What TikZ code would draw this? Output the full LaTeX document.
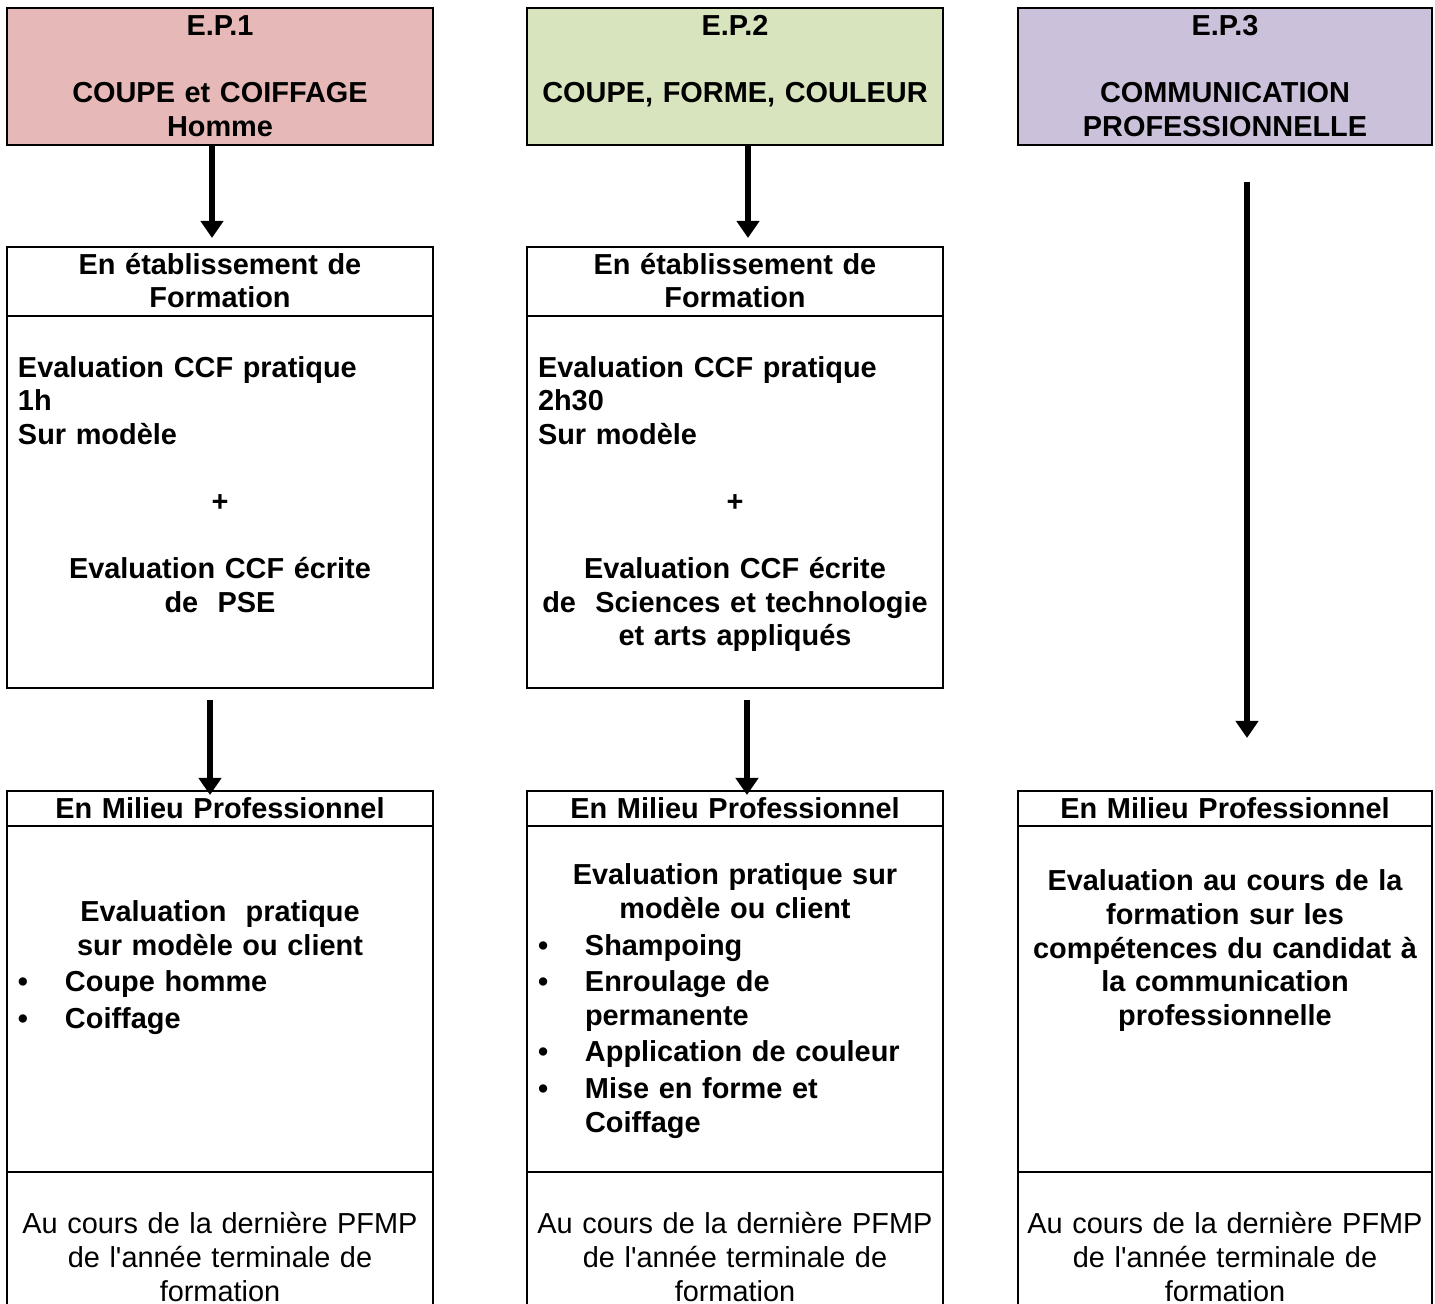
\documentclass[tikz,border=0pt]{standalone}
\usepackage{fontspec}
\setmainfont{Liberation Sans}
\usetikzlibrary{positioning,arrows.meta}

\definecolor{rougeEP}{HTML}{E6B9B8}
\definecolor{vertEP}{HTML}{D7E4BD}
\definecolor{violetEP}{HTML}{CCC1DA}

\newcommand{\ligne}{\rule[-3.6pt]{0pt}{16.8pt}}
\newcommand{\agauche}[1]{\makebox[\hsize][l]{#1}}
\newcommand{\puce}[1]{\makebox[\hsize][l]{\makebox[23.5pt][l]{\textbullet}#1}}
\newcommand{\suite}[1]{\makebox[\hsize][l]{\hspace{23.5pt}#1}}

\tikzstyle{cadre} = [rectangle, draw=black, line width=1pt, outer sep=0pt, inner xsep=5.5pt, inner ysep=0pt,
align=center, font=\fontsize{14.45pt}{16.8pt}\selectfont\bfseries, execute at begin node=\ligne, execute at end node=\ligne]
\tikzstyle{colA} = [minimum width=213pt, text width=202pt]
\tikzstyle{colB} = [minimum width=208pt, text width=197pt]
\tikzstyle{colC} = [minimum width=207pt, text width=196pt]
\tikzstyle{normal} = [font=\fontsize{14.45pt}{16.8pt}\selectfont\mdseries, inner xsep=2pt, text width=202pt]
\tikzstyle{fleche} = [line width=3pt, -{Triangle[width=11pt,length=8.5pt]}]

\begin{document}
\begin{tikzpicture}
			\clip (0,0) rectangle (717.5pt,652pt);
			% E.P.1
			\node (ep1) [cadre, colA, fill=rougeEP, minimum height=68.5pt, anchor=north west] at (3.5pt,648pt) {E.P.1\\ \mbox{}\\COUPE et COIFFAGE\\Homme};
			\node (ef1) [cadre, colA, minimum height=34.5pt, below=51pt of ep1] {En établissement de\\Formation};
			\node (cc1) [cadre, colA, minimum height=186pt, below=0pt of ef1] {\agauche{Evaluation CCF pratique}\\\agauche{1h}\\\agauche{Sur modèle}\\ \mbox{}\\+\\ \mbox{}\\Evaluation CCF écrite\\de~ PSE\\ \mbox{}};
			\node (mp1) [cadre, colA, minimum height=17.5pt, below=51.5pt of cc1] {En Milieu Professionnel};
			\node (ev1) [cadre, colA, minimum height=173pt, below=0pt of mp1] {\mbox{}\\Evaluation~ pratique\\sur modèle ou client\\[1.5pt]\puce{Coupe homme}\\[1.5pt]\puce{Coiffage}\\ \mbox{}\\ \mbox{}\\ \mbox{}};
			\node (pf1) [cadre, colA, normal, minimum height=86pt, below=0pt of ev1] {Au cours de la dernière PFMP\\de l\textquotesingle année terminale de\\formation};
			% E.P.2
			\node (ep2) [cadre, colB, fill=vertEP, minimum height=68.5pt, anchor=north west] at (263.5pt,648pt) {E.P.2\\ \mbox{}\\COUPE, FORME, COULEUR\\ \mbox{}};
			\node (ef2) [cadre, colB, minimum height=34.5pt, below=51pt of ep2] {En établissement de\\Formation};
			\node (cc2) [cadre, colB, minimum height=186pt, below=0pt of ef2] {\agauche{Evaluation CCF pratique}\\\agauche{2h30}\\\agauche{Sur modèle}\\ \mbox{}\\+\\ \mbox{}\\Evaluation CCF écrite\\de~ Sciences et technologie\\et arts appliqués};
			\node (mp2) [cadre, colB, minimum height=17.5pt, below=51.5pt of cc2] {En Milieu Professionnel};
			\node (ev2) [cadre, colB, minimum height=173pt, below=0pt of mp2] {Evaluation pratique sur\\modèle ou client\\[1.5pt]\puce{Shampoing}\\[1.5pt]\puce{Enroulage de}\\\suite{permanente}\\[1.5pt]\puce{Application de couleur}\\[1.5pt]\puce{Mise en forme et}\\\suite{Coiffage}};
			\node (pf2) [cadre, colB, normal, minimum height=86pt, below=0pt of ev2] {Au cours de la dernière PFMP\\de l\textquotesingle année terminale de\\formation};
			% E.P.3
			\node (ep3) [cadre, colC, fill=violetEP, minimum height=68.5pt, anchor=north west] at (509pt,648pt) {E.P.3\\ \mbox{}\\COMMUNICATION\\PROFESSIONNELLE};
			\node (mp3) [cadre, colC, minimum height=17.5pt, below=323pt of ep3] {En Milieu Professionnel};
			\node (ev3) [cadre, colC, minimum height=173pt, below=0pt of mp3] {Evaluation au cours de la\\formation sur les\\compétences du candidat à\\la communication\\professionnelle\\ \mbox{}\\ \mbox{}\\ \mbox{}};
			\node (pf3) [cadre, colC, normal, minimum height=86pt, below=0pt of ev3] {Au cours de la dernière PFMP\\de l\textquotesingle année terminale de\\formation};

			\draw [fleche] ([xshift=-4pt]ep1.south) -- ([xshift=-4pt,yshift=4.5pt]ef1.north);
			\draw [fleche] ([xshift=-5pt,yshift=-6pt]cc1.south) -- ([xshift=-5pt,yshift=-2pt]mp1.north);
			\draw [fleche] ([xshift=6.5pt]ep2.south) -- ([xshift=6.5pt,yshift=4.5pt]ef2.north);
			\draw [fleche] ([xshift=6pt,yshift=-6pt]cc2.south) -- ([xshift=6pt,yshift=-2pt]mp2.north);
			\draw [fleche] ([xshift=11pt,yshift=-18.5pt]ep3.south) -- ([xshift=11pt,yshift=26.5pt]mp3.north);
\end{tikzpicture}
\end{document}
